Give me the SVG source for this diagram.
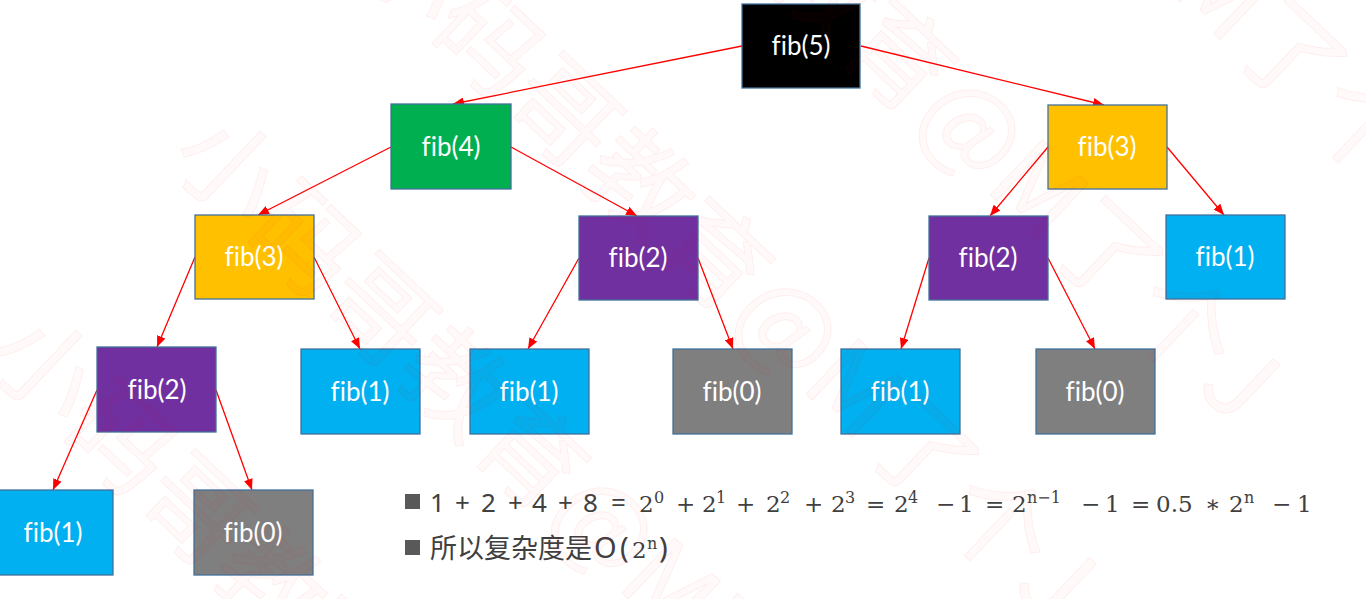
<svg xmlns="http://www.w3.org/2000/svg" width="1366" height="599" viewBox="0 0 1366 599">
<style>
.node rect{stroke:#41719C;stroke-width:1.3}
.node text{font-family:Lato,"Open Sans","Liberation Sans",sans-serif;font-size:26px;fill:#ffffff;text-anchor:middle;font-variant-ligatures:none;font-feature-settings:"liga" 0}
.k{fill:#000000}.g{fill:#00B050}.y{fill:#FFC000}.p{fill:#7030A0}.c{fill:#00B0F0}.z{fill:#7F7F7F}
#edges line{stroke:#FF0000;stroke-width:1.3;marker-end:url(#ah)}
.sans{font-family:"Noto Sans","Noto Sans CJK SC",sans-serif;fill:#404040}
.ser{font-family:"DejaVu Serif","Liberation Serif",serif;fill:#404040;font-size:23px}
.sup{font-size:16px}
.wm{font-family:"Noto Sans CJK SC",sans-serif;font-size:104px;fill:#FF0000;fill-opacity:0.025;stroke:#FF0000;stroke-opacity:0.06;stroke-width:1}
</style>
<defs>
<marker id="ah" markerUnits="userSpaceOnUse" markerWidth="11" markerHeight="9" refX="11" refY="4.5" orient="auto">
<path d="M0,0 L11,4.5 L0,9 z" fill="#FF0000"/>
</marker>
<text id="wmt" class="wm" transform="translate(166,160) rotate(43.5)">小码哥教育@M了个J</text>
</defs>
<rect x="0" y="0" width="1366" height="599" fill="#ffffff"/>

<g id="edges">
<line x1="742" y1="46" x2="453" y2="104"/>
<line x1="861" y1="46" x2="1104" y2="105"/>
<line x1="391" y1="147" x2="258" y2="215"/>
<line x1="511" y1="147" x2="637" y2="216"/>
<line x1="1048" y1="147" x2="990" y2="216"/>
<line x1="1167" y1="147" x2="1224" y2="215"/>
<line x1="195" y1="257" x2="157" y2="347"/>
<line x1="314" y1="257" x2="360" y2="349"/>
<line x1="579" y1="258" x2="528" y2="349"/>
<line x1="698" y1="258" x2="733" y2="349"/>
<line x1="929" y1="258" x2="901" y2="349"/>
<line x1="1048" y1="258" x2="1095" y2="349"/>
<line x1="97" y1="390" x2="53" y2="490"/>
<line x1="216" y1="390" x2="252" y2="490"/>
</g>

<g id="fib5" class="node"><rect class="k" x="742" y="4" width="118" height="84"/><text x="801" y="55">fib(5)</text></g>
<g id="fib4" class="node"><rect class="g" x="391" y="104" width="120" height="85"/><text x="451" y="156">fib(4)</text></g>
<g id="fib3r" class="node"><rect class="y" x="1048" y="105" width="119" height="84"/><text x="1107" y="156">fib(3)</text></g>
<g id="fib3l" class="node"><rect class="y" x="195" y="215" width="119" height="84"/><text x="254" y="266">fib(3)</text></g>
<g id="fib2m" class="node"><rect class="p" x="579" y="216" width="119" height="84"/><text x="638" y="267">fib(2)</text></g>
<g id="fib2r" class="node"><rect class="p" x="929" y="216" width="119" height="84"/><text x="988" y="267">fib(2)</text></g>
<g id="fib1r" class="node"><rect class="c" x="1166" y="215" width="119" height="84"/><text x="1225" y="266">fib(1)</text></g>
<g id="fib2l" class="node"><rect class="p" x="97" y="347" width="119" height="85"/><text x="157" y="399">fib(2)</text></g>
<g id="fib1a" class="node"><rect class="c" x="301" y="349" width="119" height="85"/><text x="360" y="401">fib(1)</text></g>
<g id="fib1b" class="node"><rect class="c" x="470" y="349" width="119" height="85"/><text x="529" y="401">fib(1)</text></g>
<g id="fib0a" class="node"><rect class="z" x="673" y="349" width="119" height="85"/><text x="732" y="401">fib(0)</text></g>
<g id="fib1c" class="node"><rect class="c" x="841" y="349" width="119" height="85"/><text x="900" y="401">fib(1)</text></g>
<g id="fib0b" class="node"><rect class="z" x="1036" y="349" width="119" height="85"/><text x="1095" y="401">fib(0)</text></g>
<g id="fib1d" class="node"><rect class="c" x="-6" y="490" width="119" height="85"/><text x="53" y="542">fib(1)</text></g>
<g id="fib0c" class="node"><rect class="z" x="194" y="490" width="119" height="85"/><text x="253" y="542">fib(0)</text></g>

<g id="notes">
<rect x="405" y="494" width="15" height="15" fill="#595959"/>
<rect x="405" y="540" width="15" height="15" fill="#595959"/>
<text class="sans" font-size="26" y="512"><tspan x="430">1</tspan><tspan x="455">+</tspan><tspan x="481">2</tspan><tspan x="508">+</tspan><tspan x="532">4</tspan><tspan x="558">+</tspan><tspan x="583">8</tspan><tspan x="611">=</tspan></text>
<text class="ser" y="512"><tspan x="639">2</tspan><tspan class="sup" x="654" dy="-9">0</tspan><tspan x="676" dy="9">+</tspan><tspan x="702">2</tspan><tspan class="sup" x="716" dy="-9">1</tspan><tspan x="736" dy="9">+</tspan><tspan x="766">2</tspan><tspan class="sup" x="780" dy="-9">2</tspan><tspan x="804" dy="9">+</tspan><tspan x="831">2</tspan><tspan class="sup" x="845" dy="-9">3</tspan><tspan x="866" dy="9">=</tspan><tspan x="894">2</tspan><tspan class="sup" x="908" dy="-9">4</tspan><tspan x="936" dy="9">−</tspan><tspan x="959">1</tspan><tspan x="985">=</tspan><tspan x="1012">2</tspan><tspan class="sup" x="1027" dy="-9">n−1</tspan><tspan x="1081" dy="9">−</tspan><tspan x="1105">1</tspan><tspan x="1131">=</tspan><tspan x="1156">0.5</tspan><tspan x="1205">∗</tspan><tspan x="1229">2</tspan><tspan class="sup" x="1244" dy="-9">n</tspan><tspan x="1272" dy="9">−</tspan><tspan x="1297">1</tspan></text>
<text class="sans" font-size="27" y="558"><tspan x="430">所以复杂度是</tspan></text>
<text class="sans" font-size="29" y="558"><tspan x="594">O</tspan><tspan x="620">(</tspan></text>
<text class="ser" y="558"><tspan x="632">2</tspan><tspan class="sup" x="647" dy="-9">n</tspan></text>
<text class="sans" font-size="29" x="659" y="558">)</text>
</g>

<g id="watermark">
<use href="#wmt"/>
<use href="#wmt" transform="translate(184,-199)"/>
<use href="#wmt" transform="translate(368,-398)"/>
<use href="#wmt" transform="translate(552,-597)"/>
<use href="#wmt" transform="translate(-184,199)"/>
</g>
</svg>
